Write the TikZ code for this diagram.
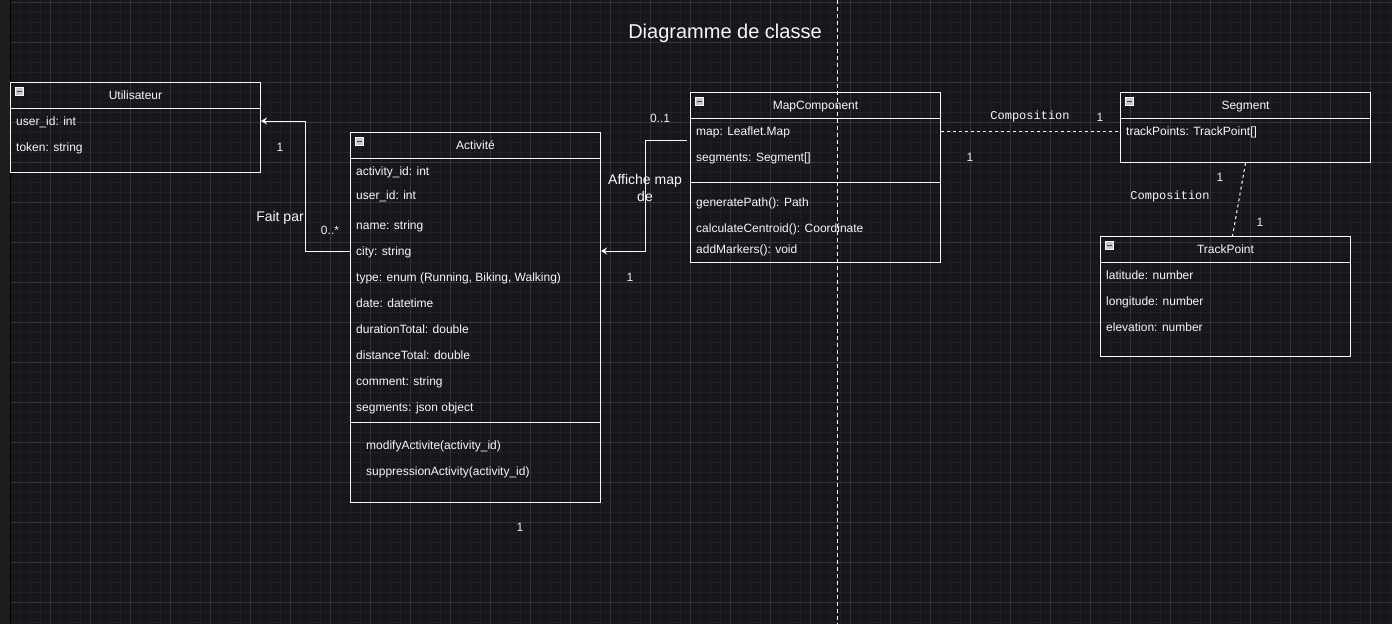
\documentclass[tikz,border=0pt]{standalone}
\usepackage{fontspec}
\setmainfont{Liberation Sans}
\newfontfamily\codefont{Liberation Mono}
\usepackage{xcolor}
\usetikzlibrary{arrows.meta,positioning,calc}
\definecolor{canvas}{RGB}{24,22,29}
\definecolor{gridminor}{RGB}{33,31,39}
\definecolor{gridmajor}{RGB}{53,51,59}
\definecolor{sidebar}{RGB}{27,30,31}
\definecolor{ink}{RGB}{248,248,248}
\definecolor{multink}{RGB}{232,240,248}
\definecolor{iconfill}{RGB}{200,200,204}
\tikzset{
  classbox/.style={draw=ink,line width=1pt,anchor=north west,inner sep=0pt,minimum width=250pt},
  sep/.style={ink,line width=1pt},
  classname/.style={font=\fontsize{12}{14}\selectfont,text=ink,inner sep=0pt,
    text height=10pt,text depth=2pt},
  attr/.style={font=\fontsize{12}{14}\selectfont,text=ink,anchor=west,inner sep=0pt,
    text height=10pt,text depth=2pt},
  mult/.style={font=\fontsize{12}{14}\selectfont,text=multink,inner sep=0pt,
    text height=10pt,text depth=2pt},
  rolelabel/.style={font=\fontsize{14}{17}\selectfont,text=ink,align=center,inner sep=0pt},
  complabel/.style={font=\codefont\fontsize{12}{14}\selectfont,text=ink,inner sep=0pt,
    text height=9pt,text depth=2pt},
  assoc/.style={ink,line width=1pt,-{Stealth[length=6pt,width=7pt]}},
  compo/.style={ink,line width=1pt,dash pattern=on 3pt off 3pt},
  toggle/.style={draw=ink,fill=iconfill,minimum size=8pt,inner sep=0pt,line width=0.8pt,
    path picture={\draw[black!75,line width=1.4pt]
      ([xshift=1.8pt]path picture bounding box.west) -- ([xshift=-1.8pt]path picture bounding box.east);}}
}

\begin{document}
\begin{tikzpicture}[x=1pt,y=-1pt]
  \useasboundingbox (0,0) rectangle (1392,624);
  % canvas and grid
  \fill[canvas] (0,0) rectangle (1392,624);
  \foreach \gx in {20,30,...,1390} \draw[gridminor,line width=0.8pt] (\gx,0) -- (\gx,624);
  \foreach \gy in {2,12,...,622} \draw[gridminor,line width=0.8pt] (10,\gy) -- (1392,\gy);
  \foreach \gx in {50,90,...,1370} \draw[gridmajor,line width=0.8pt] (\gx,0) -- (\gx,624);
  \foreach \gy in {2,42,...,602} \draw[gridmajor,line width=0.8pt] (10,\gy) -- (1392,\gy);
  \fill[sidebar] (0,0) rectangle (10,624);
  \draw[black,line width=1pt] (10,0) -- (10,624);
  \draw[ink,line width=1pt,dash pattern=on 4pt off 3pt] (837,0) -- (837,624);

  \node[font=\fontsize{20}{24}\selectfont,text=ink] (title) at (725,33) {Diagramme de classe};

  % Utilisateur
  \node[classbox,minimum height=90pt] (user) at (10,82) {};
  \draw[sep] ([yshift=-26pt]user.north west) -- ([yshift=-26pt]user.north east);
  \node[toggle] at ([xshift=9.5pt,yshift=-9.5pt]user.north west) {};
  \node[classname] at ([yshift=-13.5pt]user.north) {Utilisateur};
  \foreach \y/\t [count=\i] in {121/user\_id: int, 147/token: string}
    \node[attr] (user-\i) at (16,\y) {\t};

  % Activite
  \node[classbox,minimum height=370pt] (act) at (350,132) {};
  \draw[sep] ([yshift=-26pt]act.north west) -- ([yshift=-26pt]act.north east);
  \draw[sep] ([yshift=-290pt]act.north west) -- ([yshift=-290pt]act.north east);
  \node[toggle] at ([xshift=9.5pt,yshift=-9.5pt]act.north west) {};
  \node[classname] at ([yshift=-13.5pt]act.north) {Activité};
  \foreach \y/\t [count=\i] in {171/activity\_id: int, 195/user\_id: int, 225/name: string,
      251/city: string, {277/type: enum (Running, Biking, Walking)}, 303/date: datetime,
      329/durationTotal: double, 355/distanceTotal: double, 381/comment: string,
      407/segments: json object}
    \node[attr] (act-\i) at (356,\y) {\t};
  \foreach \y/\t [count=\i] in {445/modifyActivite(activity\_id), 471/suppressionActivity(activity\_id)}
    \node[attr] (actop-\i) at (366,\y) {\t};

  % MapComponent
  \node[classbox,minimum height=170pt] (map) at (690,92) {};
  \draw[sep] ([yshift=-26pt]map.north west) -- ([yshift=-26pt]map.north east);
  \draw[sep] ([yshift=-90pt]map.north west) -- ([yshift=-90pt]map.north east);
  \node[toggle] at ([xshift=9.5pt,yshift=-9.5pt]map.north west) {};
  \node[classname] at ([yshift=-13.5pt]map.north) {MapComponent};
  \foreach \y/\t [count=\i] in {131/map: Leaflet.Map, 157/segments: Segment[]}
    \node[attr] (map-\i) at (696,\y) {\t};
  \foreach \y/\t [count=\i] in {202/generatePath(): Path, 228/calculateCentroid(): Coordinate,
      249/addMarkers(): void}
    \node[attr] (mapop-\i) at (696,\y) {\t};
  \coordinate (mapout) at (687,140);

  % Segment
  \node[classbox,minimum height=70pt] (seg) at (1120,92) {};
  \draw[sep] ([yshift=-26pt]seg.north west) -- ([yshift=-26pt]seg.north east);
  \node[toggle] at ([xshift=9.5pt,yshift=-9.5pt]seg.north west) {};
  \node[classname] at ([yshift=-13.5pt]seg.north) {Segment};
  \node[attr] (seg-1) at (1126,131) {trackPoints: TrackPoint[]};

  % TrackPoint
  \node[classbox,minimum height=120pt] (tp) at (1100,236) {};
  \draw[sep] ([yshift=-26pt]tp.north west) -- ([yshift=-26pt]tp.north east);
  \node[toggle] at ([xshift=9.5pt,yshift=-9.5pt]tp.north west) {};
  \node[classname] at ([yshift=-13.5pt]tp.north) {TrackPoint};
  \foreach \y/\t [count=\i] in {275/latitude: number, 301/longitude: number, 327/elevation: number}
    \node[attr] (tp-\i) at (1106,\y) {\t};

  % associations
  \draw[assoc] (act.west |- act-4) -- ++(-45,0) |- (user.east |- user-1);
  \draw[assoc] (mapout) -- ++(-42,0) |- (act.east |- act-4);
  \draw[compo] (map.east |- map-1) -- (seg.west |- seg-1);
  \draw[compo,ink!70] (seg.south) -- ([xshift=7pt]tp.north);

  \node[rolelabel] (faitpar) at (280,218) {Fait par};
  \node[mult] at (280,147) {1};
  \node[mult] at (330,230) {0..*};
  \node[rolelabel] (affiche) at (645,188) {Affiche map\\de};
  \node[mult] at (660,118) {0..1};
  \node[mult] at (630,277) {1};
  \node[complabel] at (1030,116) {Composition};
  \node[mult] at (1100,117) {1};
  \node[mult] at (970,157) {1};
  \node[complabel] at (1170,196) {Composition};
  \node[mult] at (1220,177) {1};
  \node[mult] at (1260,222) {1};
  \node[mult] at (520,527) {1};
\end{tikzpicture}
\end{document}
